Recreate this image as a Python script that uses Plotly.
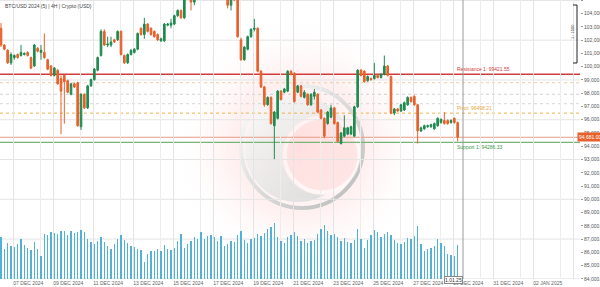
import base64
import plotly.graph_objects as go

# ---------------- data ----------------
title_text = "BTC/USD 2024 (5) | 4H | Crypto (USD)"
date_labels = ["07 DEC 2024", "09 DEC 2024", "11 DEC 2024", "13 DEC 2024", "15 DEC 2024",
               "17 DEC 2024", "19 DEC 2024", "21 DEC 2024", "23 DEC 2024", "25 DEC 2024",
               "27 DEC 2024", "29 DEC 2024", "31 DEC 2024", "02 JAN 2025", "04 JAN 2025"]

open_ = [102897, 101633, 101238, 100290, 100685, 100922, 100843, 100922, 101080, 100685,
         100053, 101396, 101080, 101080, 100527, 100053, 99342, 99737, 99105, 99342,
         98947, 97920, 98710, 98789, 95471, 97920, 96893, 98552, 99026, 99737,
         100843, 102660, 101633, 101633, 102028, 102028, 102660, 100843, 100290, 100922,
         101080, 101317, 102897, 102423, 103213, 102897, 102660, 102423, 101949, 101949,
         103134, 103134, 103213, 103845, 104240, 103687, 105267, 105504, 104872, 105662,
         106215, 106768, 106452, 107242, 107005, 107558, 106610, 105978, 105662, 104635,
         105188, 105030, 102028, 100527, 101317, 102265, 102818, 102897, 99658, 98473,
         97130, 97683, 95550, 96103, 98157, 98078, 98157, 99658, 99500, 98078,
         98552, 97683, 97920, 97130, 97762, 97920, 96735, 96103, 95708, 96182,
         96893, 95787, 94207, 94760, 94918, 94918, 94760, 96972, 99737, 99658,
         98947, 99105, 99105, 99342, 99184, 99421, 100053, 99263, 96498, 96814,
         96656, 96735, 97130, 97683, 97762, 97130, 95155, 95313, 95471, 95471,
         95313, 95550, 95787, 95945, 95945, 95787, 96103, 95787]

high = [103292, 101712, 101317, 101080, 100922, 101001, 101633, 101080, 101159, 100764,
        101712, 101475, 101633, 102502, 100606, 100132, 99974, 99816, 99342, 99421,
        99026, 98789, 98789, 98868, 97999, 97999, 98631, 99105, 99895, 100764,
        102818, 102818, 102265, 102265, 102107, 102739, 102739, 100922, 101001, 101317,
        101396, 102581, 102976, 103687, 103292, 102976, 102739, 102502, 102186, 103292,
        103292, 103608, 103924, 104319, 104319, 105425, 105978, 105978, 105820, 106373,
        106926, 107005, 107400, 107400, 107716, 107716, 106768, 106136, 105820, 105346,
        105504, 105425, 102186, 101554, 102344, 102897, 103608, 102976, 99737, 98552,
        97762, 97762, 96656, 98236, 98236, 98394, 99737, 99737, 99579, 98631,
        98631, 98236, 97999, 97999, 98315, 97999, 96814, 96182, 96656, 97130,
        96972, 95866, 95076, 96340, 95471, 95550, 97051, 99816, 99816, 99737,
        99342, 99184, 100290, 99421, 99500, 100843, 100132, 99342, 96893, 96893,
        97209, 97367, 97762, 97762, 97841, 97209, 95471, 95629, 95629, 95708,
        95787, 96182, 96103, 96577, 96024, 96024, 96182, 95866]

low = [101475, 101238, 100211, 100132, 100527, 100606, 100764, 100843, 100764, 99816,
       99974, 101080, 100527, 100606, 99737, 99263, 99263, 98631, 94918, 95708,
       97999, 97841, 98394, 95471, 95234, 96814, 96814, 98473, 98947, 99658,
       100764, 101554, 101475, 101475, 101791, 101949, 100843, 100211, 100211, 100843,
       101001, 101238, 102344, 102107, 102581, 102344, 102186, 101949, 101870, 101870,
       103055, 102897, 103134, 103766, 103608, 103608, 105109, 104240, 104635, 105504,
       106057, 106294, 106294, 106768, 106847, 106452, 105820, 105504, 104398, 104240,
       104951, 102186, 100448, 100448, 101238, 102186, 102660, 99579, 98394, 96972,
       97051, 95629, 93022, 96024, 97446, 97999, 98078, 99342, 97288, 97999,
       97683, 97604, 97051, 97051, 97525, 96498, 96024, 94602, 95629, 96103,
       95629, 94286, 94128, 94681, 94839, 94839, 94681, 96893, 99263, 98789,
       98868, 98947, 99026, 99105, 99105, 99342, 99263, 96419, 96340, 96577,
       96577, 96656, 97051, 97288, 97051, 94207, 95076, 95234, 95392, 95392,
       95234, 95471, 95708, 95629, 95629, 95708, 95708, 94365]

close = [101633, 101317, 100290, 100922, 100843, 100685, 101080, 101001, 100843, 99895,
         101633, 101159, 101238, 100685, 99816, 99342, 99895, 98710, 98157, 98868,
         98078, 98710, 98473, 95550, 97920, 96893, 98552, 99026, 99816, 100685,
         102660, 101633, 101712, 101870, 101870, 102660, 100922, 100290, 100922, 101238,
         101317, 102502, 102423, 103213, 102660, 102423, 102265, 102028, 102107, 103213,
         103213, 103292, 103845, 104240, 103687, 105267, 105820, 104872, 105662, 106215,
         106768, 106452, 107242, 107005, 107558, 106610, 105978, 105662, 104635, 105188,
         105030, 102265, 100527, 101475, 102265, 102818, 102897, 99658, 98473, 97130,
         97683, 95708, 96577, 98157, 97525, 98315, 99658, 99421, 97367, 98552,
         97762, 98078, 97130, 97920, 98078, 96577, 96103, 94760, 96577, 96893,
         95708, 94365, 94997, 95392, 95392, 95471, 96972, 99737, 99342, 98868,
         99263, 99026, 99342, 99184, 99421, 100053, 99342, 96498, 96814, 96656,
         97130, 97288, 97683, 97367, 97130, 95155, 95392, 95550, 95550, 95629,
         95708, 96103, 96024, 95708, 95708, 95945, 95787, 94681]

volume = [4200, 3000, 3600, 3300, 3200, 3500, 4000, 3400, 3100, 2900,
          3700, 3000, 2300, 4500, 4400, 4700, 4600, 4500, 4800, 4800,
          4400, 4800, 4600, 4700, 4900, 4700, 4000, 3700, 3500, 3800,
          4200, 3700, 3300, 3000, 3500, 4000, 4400, 3900, 3600, 3300,
          3200, 3000, 2900, 1700, 2500, 2800, 2800, 3000, 2800, 3400,
          3000, 2900, 3100, 3800, 4500, 3100, 3500, 3800, 4200, 4000,
          4700, 4000, 4300, 4400, 4200, 3800, 4300, 3300, 3500, 3800,
          3700, 4400, 4800, 3900, 3600, 4000, 4100, 4500, 4300, 4600,
          5000, 5200, 5600, 4200, 3800, 3600, 4200, 4400, 4700, 4300,
          3800, 4000, 3600, 3800, 3900, 4500, 5000, 5400, 4800, 4400,
          4500, 4200, 3800, 4100, 3700, 3600, 3900, 5000, 4000, 3100,
          3900, 4400, 4900, 4700, 4200, 4500, 4700, 4400, 3900, 3600,
          3500, 3700, 4100, 4000, 4300, 5300, 3500, 2800, 3000, 3100,
          3300, 4000, 3600, 3300, 2500, 2400, 2300, 3400]

resistance_1 = 99421.55
level_r_dotted = 98789.0
level_grey_1 = 97920.0
level_grey_2 = 97209.0
pivot = 96498.21
support_1 = 94286.33
last_price = 94681.00
cursor_label = "1.01.25"
scale_label = "1 : 1000"

# ---------------- styles ----------------
GREEN = "#1e8b50"
ORANGE = "#e8612c"
VOL = "#4fb2d6"
GRID = "#e4e4e4"
FONT = "Liberation Sans"

idx = list(range(len(close)))
n_slots = 174  # number of candle slots visible across the plot width

fig = go.Figure()
fig.add_trace(go.Bar(x=idx, y=volume, yaxis="y2", width=0.2,
                     marker=dict(color=VOL, line=dict(width=0)), hoverinfo="skip"))
fig.add_trace(go.Candlestick(
    x=idx, open=open_, high=high, low=low, close=close,
    increasing=dict(line=dict(color=GREEN, width=1), fillcolor=GREEN),
    decreasing=dict(line=dict(color=ORANGE, width=1), fillcolor=ORANGE),
    whiskerwidth=0, hoverinfo="skip"))

# watermark logo (svg)
svg = """<svg xmlns='http://www.w3.org/2000/svg' width='260' height='260' viewBox='0 0 260 260'>
<defs>
<radialGradient id='g' cx='50%' cy='50%' r='50%'>
<stop offset='0' stop-color='#ff6a6a' stop-opacity='0.20'/>
<stop offset='0.55' stop-color='#ff8c8c' stop-opacity='0.12'/>
<stop offset='1' stop-color='#ffffff' stop-opacity='0'/>
</radialGradient>
<linearGradient id='r' x1='0' y1='0' x2='1' y2='1'>
<stop offset='0' stop-color='#ffffff'/>
<stop offset='1' stop-color='#b9b9b9'/>
</linearGradient>
<linearGradient id='c' x1='0' y1='0' x2='1' y2='1'>
<stop offset='0' stop-color='#fbfbfb'/>
<stop offset='1' stop-color='#d2d2d2'/>
</linearGradient>
<mask id='m'>
<rect width='260' height='260' fill='white'/>
<circle cx='152' cy='140' r='40' fill='black'/>
</mask>
</defs>
<circle cx='130' cy='130' r='130' fill='url(#g)'/>
<circle cx='132' cy='132' r='61' fill='#ffffff' fill-opacity='0.25' stroke='url(#r)' stroke-width='4'/>
<circle cx='128' cy='134' r='53' fill='url(#c)' mask='url(#m)' opacity='0.8'/>
<circle cx='152' cy='140' r='37' fill='#ffd6d6' opacity='0.45' stroke='#ffffff' stroke-width='3'/>
</svg>"""
src = "data:image/svg+xml;base64," + base64.b64encode(svg.encode()).decode()

W, H_PLOT = 580.0, 279.0

def px_x(p):
    return p / W

def px_y(p):
    return 1 - p / H_PLOT

shapes = []
# horizontal grid every 3000
for lv in range(84000, 105001, 3000):
    shapes.append(dict(type="line", xref="paper", x0=0, x1=1, yref="y", y0=lv, y1=lv,
                       line=dict(color=GRID, width=1), layer="below"))
# reference levels
shapes += [
    dict(type="line", xref="paper", x0=0, x1=1, yref="y", y0=level_r_dotted, y1=level_r_dotted,
         line=dict(color="#e9cfa8", width=1, dash="dot"), layer="below"),
    dict(type="line", xref="paper", x0=0, x1=1, yref="y", y0=level_grey_1, y1=level_grey_1,
         line=dict(color="#cfcfcf", width=1, dash="dot"), layer="below"),
    dict(type="line", xref="paper", x0=0, x1=1, yref="y", y0=level_grey_2, y1=level_grey_2,
         line=dict(color="#d6d6d6", width=1, dash="dot"), layer="below"),
    dict(type="line", xref="paper", x0=0, x1=1, yref="y", y0=pivot, y1=pivot,
         line=dict(color="#f0b04a", width=1, dash="dot"), layer="below"),
    dict(type="line", xref="paper", x0=0, x1=1, yref="y", y0=resistance_1, y1=resistance_1,
         line=dict(color="#d23c3c", width=1.5), layer="below"),
    dict(type="line", xref="paper", x0=0, x1=1, yref="y", y0=last_price, y1=last_price,
         line=dict(color="#e59c86", width=1.2), layer="below"),
    dict(type="line", xref="paper", x0=0, x1=1, yref="y", y0=support_1, y1=support_1,
         line=dict(color="#78b478", width=1.2), layer="below"),
    # cursor
    dict(type="line", xref="x", x0=138.6, x1=138.6, yref="paper", y0=0, y1=1,
         line=dict(color="#9a9a9a", width=1)),
    # scale bracket
    dict(type="line", xref="paper", x0=px_x(577), x1=px_x(577), yref="paper", y0=px_y(5), y1=px_y(63),
         line=dict(color="#222", width=1)),
    dict(type="line", xref="paper", x0=px_x(573), x1=px_x(577), yref="paper", y0=px_y(5), y1=px_y(5),
         line=dict(color="#222", width=1)),
    dict(type="line", xref="paper", x0=px_x(573), x1=px_x(577), yref="paper", y0=px_y(63), y1=px_y(63),
         line=dict(color="#222", width=1)),
]

annotations = [
    dict(text=title_text, xref="paper", yref="paper", x=0.005, y=0.995, xanchor="left", yanchor="top",
         showarrow=False, font=dict(family=FONT, size=5, color="#444")),
    dict(text="Resistance 1: %.2f" % resistance_1, xref="x", yref="y", x=136.2, y=resistance_1,
         xanchor="left", yanchor="bottom", showarrow=False, font=dict(family=FONT, size=5, color="#d23c3c")),
    dict(text="Pivot: %.2f" % pivot, xref="x", yref="y", x=136.2, y=pivot,
         xanchor="left", yanchor="bottom", showarrow=False, font=dict(family=FONT, size=5, color="#e9a43a")),
    dict(text="Support 1: %.2f" % support_1, xref="x", yref="y", x=136.2, y=support_1,
         xanchor="left", yanchor="top", showarrow=False, font=dict(family=FONT, size=5, color="#3f9a4f")),
    dict(text="{:,.2f}".format(last_price), xref="paper", yref="y", x=px_x(577), y=last_price,
         xanchor="left", yanchor="middle", showarrow=False, bgcolor=ORANGE, borderpad=1,
         font=dict(family=FONT, size=5, color="white")),
    dict(text=cursor_label, xref="x", yref="paper", x=138.6, y=px_y(280), xanchor="right", yanchor="middle",
         showarrow=False, bgcolor="white", bordercolor="#888", borderwidth=1, borderpad=0,
         font=dict(family=FONT, size=5, color="#333")),
    dict(text=scale_label, xref="paper", yref="paper", x=px_x(573), y=px_y(32), textangle=-90,
         xanchor="center", yanchor="middle", showarrow=False, font=dict(family=FONT, size=4, color="#333")),
]

fig.update_layout(
    template="none",
    width=600, height=287,
    margin=dict(l=0, r=20, t=0, b=8, pad=0),
    paper_bgcolor="white", plot_bgcolor="rgba(0,0,0,0)",
    showlegend=False,
    font=dict(family=FONT, size=5, color="#555"),
    xaxis=dict(range=[-0.3, n_slots - 0.3], tickmode="array",
               tickvals=[3.7 + 12 * k for k in range(len(date_labels))], ticktext=date_labels,
               ticklabelposition="outside right", ticks="", showgrid=True, gridcolor=GRID, gridwidth=1,
               minor=dict(tickmode="array", tickvals=[12 * k - 0.3 for k in range(1, 15)],
                          showgrid=True, gridcolor="#ededed", ticks=""),
               zeroline=False, showline=False, automargin=False,
               tickfont=dict(family=FONT, size=5, color="#666"),
               rangeslider=dict(visible=False)),
    yaxis=dict(side="right", range=[83989, 105030], tickmode="linear", tick0=0, dtick=1000,
               tickformat=",.2f", showgrid=False, zeroline=False, showline=False,
               ticks="outside", ticklen=2, tickcolor="#999", automargin=False,
               tickfont=dict(family=FONT, size=5, color="#555")),
    yaxis2=dict(overlaying="y", range=[0, 27900], visible=False, showgrid=False),
    bargap=0,
    shapes=shapes,
    annotations=annotations,
    images=[dict(source=src, xref="paper", yref="paper", x=px_x(170), y=px_y(15),
                 sizex=260 / W, sizey=260 / H_PLOT, sizing="stretch", xanchor="left", yanchor="top",
                 layer="below", opacity=1)],
)

fig.write_html("out.html")
